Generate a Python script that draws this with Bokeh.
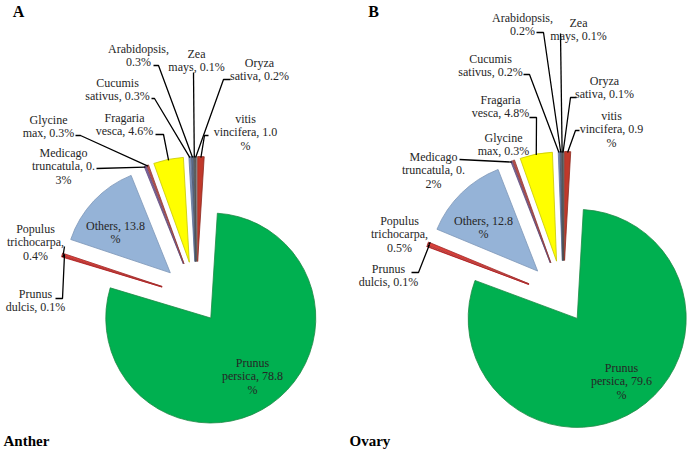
import numpy as np
from bokeh.plotting import figure
from bokeh.models import Range1d
from bokeh.core.properties import value
from bokeh.embed import file_html
from bokeh.resources import INLINE

# ---------------- data ----------------
species = ["vitis vincifera", "Prunus persica", "Prunus dulcis", "Populus trichocarpa",
           "Others", "Medicago truncatula", "Glycine max", "Fragaria vesca",
           "Cucumis sativus", "Arabidopsis", "Zea mays", "Oryza sativa"]
anther_pct = [1.0, 78.8, 0.1, 0.4, 13.8, 0.3, 0.3, 4.6, 0.3, 0.3, 0.1, 0.2]
ovary_pct = [0.9, 79.6, 0.1, 0.5, 12.8, 0.2, 0.3, 4.8, 0.2, 0.2, 0.1, 0.1]

anther_labels = [["vitis", "vincifera, 1.0", "%"], ["Prunus", "persica, 78.8", "%"],
                 ["Prunus", "dulcis, 0.1%"], ["Populus", "trichocarpa,", "0.4%"],
                 ["Others, 13.8", "%"], ["Medicago", "truncatula, 0.", "3%"],
                 ["Glycine", "max, 0.3%"], ["Fragaria", "vesca, 4.6%"],
                 ["Cucumis", "sativus, 0.3%"], ["Arabidopsis,", "0.3%"],
                 ["Zea", "mays, 0.1%"], ["Oryza", "sativa, 0.2%"]]
ovary_labels = [["vitis", "vincifera, 0.9", "%"], ["Prunus", "persica, 79.6", "%"],
                ["Prunus", "dulcis, 0.1%"], ["Populus", "trichocarpa,", "0.5%"],
                ["Others, 12.8", "%"], ["Medicago", "truncatula, 0.", "2%"],
                ["Glycine", "max, 0.3%"], ["Fragaria", "vesca, 4.8%"],
                ["Cucumis", "sativus, 0.2%"], ["Arabidopsis,", "0.2%"],
                ["Zea", "mays, 0.1%"], ["Oryza", "sativa, 0.1%"]]
panel_letters = ["A", "B"]
panel_titles = ["Anther", "Ovary"]

# ---------------- styles ----------------
fills = ["#c0392b", "#00b050", "#ee2a2a", "#d9403a", "#95b3d7", "#8064a2",
         "#c0504d", "#ffff00", "#8497c0", "#5f6f8f", "#808080", "#6b6b6b"]
edges = ["#8c2a20", "#1d8a45", "#b01a1c", "#a02a28", "#7d97b8", "#5e4a7a",
         "#8c3a38", "#c8c800", "#60739a", "#454f66", "#5a5a5a", "#4a4a4a"]
FONT = value("Liberation Serif")

W, H = 692, 452


def X(px):
    return px


def Y(py):
    return H - py


# layout in page-pixel coordinates
layouts = [
    dict(center=(196, 297), r=105, d=36, dg=25,
         labels={0: ((245, 118), [(208, 135), (204, 135)]),
                 1: ((252, 362), None),
                 2: ((35, 293), [(55, 298), (62, 298), (64, 254)]),
                 3: ((35, 228), [(64, 246)]),
                 4: ((115, 225), None),
                 5: ((63, 152), [(96, 168)]),
                 6: ((48, 119), [(75, 135), (80, 135)]),
                 7: ((124, 117), [(155, 134), (163, 134)]),
                 8: ((117, 82), [(151, 98), (154, 98)]),
                 9: ((138, 48), [(153, 65), (158, 65)]),
                 10: ((196, 53), [(193, 72)]),
                 11: ((259, 62), [(230, 79), (223, 79)])}),
    dict(center=(563, 297), r=109, d=37, dg=25,
         labels={0: ((611, 115), [(579, 130), (575, 130)]),
                 1: ((621, 367), None),
                 2: ((388, 268), [(411, 272), (418, 272), (429, 244)]),
                 3: ((399, 220), [(430, 242)]),
                 4: ((483, 220), None),
                 5: ((433, 156), [(459, 159)]),
                 6: ((503, 137), None),
                 7: ((500, 99), [(529, 117), (536, 117)]),
                 8: ((490, 58), [(523, 74), (529, 74)]),
                 9: ((522, 17), [(536, 32), (543, 32)]),
                 10: ((578, 22), [(560, 33)]),
                 11: ((604, 80), [(576, 97), (570, 97)])}),
]

p = figure(width=W, height=H, output_backend="svg", toolbar_location=None,
           x_range=Range1d(0, W), y_range=Range1d(0, H), min_border=0)
p.axis.visible = False
p.grid.visible = False
p.outline_line_color = None
p.background_fill_color = "white"


def draw_pie(pct, labels, lay):
    pct = np.asarray(pct, float)
    ang = pct / pct.sum() * 360.0
    ends = np.cumsum(ang)
    starts = ends - ang
    mids = np.radians((starts + ends) / 2)
    cx, cy = X(lay["center"][0]), Y(lay["center"][1])
    ex = np.array([lay["dg"] if i == 1 else lay["d"] for i in range(len(pct))], float)
    xs = cx + ex * np.sin(mids)
    ys = cy + ex * np.cos(mids)
    r = lay["r"]
    p.wedge(x=xs, y=ys, radius=r, start_angle=np.radians(90 - ends),
            end_angle=np.radians(90 - starts), fill_color=fills,
            line_color=edges, line_width=0.8)
    lx, ly = [], []
    tx, ty, tt = [], [], []
    for i, (pos, pts) in lay["labels"].items():
        lines = labels[i]
        for k, s in enumerate(lines):
            tx.append(X(pos[0]))
            ty.append(Y(pos[1] + 13.5 * k))
            tt.append(s)
        if pts:
            endx = xs[i] + (r - 1) * np.sin(mids[i])
            endy = ys[i] + (r - 1) * np.cos(mids[i])
            lx.append([X(a) for a, b in pts] + [endx])
            ly.append([Y(b) for a, b in pts] + [endy])
    p.multi_line(xs=lx, ys=ly, line_color="black", line_width=1.3)
    p.text(x=tx, y=ty, text=tt, text_font=FONT, text_font_size="12px",
           text_align="center", text_baseline="middle", text_color="#262626")


draw_pie(anther_pct, anther_labels, layouts[0])
draw_pie(ovary_pct, ovary_labels, layouts[1])

p.text(x=[X(18), X(373)], y=[Y(11), Y(11)], text=panel_letters, text_font=FONT,
       text_font_size="16px", text_font_style="bold", text_align="center",
       text_baseline="middle", text_color="black")
p.text(x=[X(3), X(349)], y=[Y(440), Y(440)], text=panel_titles, text_font=FONT,
       text_font_size="15px", text_font_style="bold", text_align="left",
       text_baseline="middle", text_color="black")

open("out.html", "w").write(file_html(p, INLINE))
